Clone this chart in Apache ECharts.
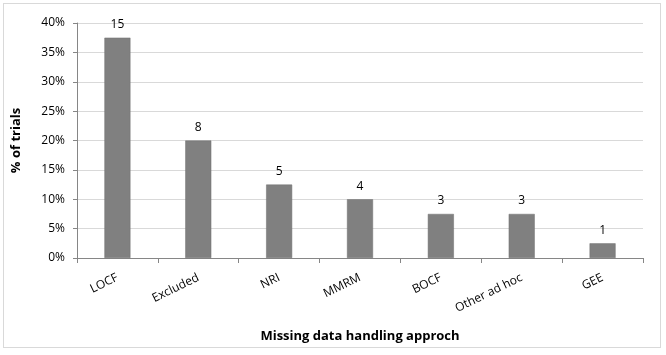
<!DOCTYPE html>
<html>
<head>
<meta charset="utf-8">
<script src="https://cdn.jsdelivr.net/npm/echarts@6/dist/echarts.min.js"></script>
<style>
  html, body { margin: 0; padding: 0; background: #fff; }
  #frame {
    position: absolute; left: 3px; top: 3px; width: 658px; height: 345px;
    border: 1px solid #d9d9d9; box-sizing: border-box;
  }
  #chart { position: absolute; left: 0; top: 0; width: 666px; height: 355px; }
</style>
</head>
<body>
<div id="frame"></div>
<div id="chart"></div>
<script>
const categories = ['LOCF', 'Excluded', 'NRI', 'MMRM', 'BOCF', 'Other ad hoc', 'GEE']
// % of trials (bar height) and number of trials (label)
const percents = [37.5, 20, 12.5, 10, 7.5, 7.5, 2.5]
const counts = [15, 8, 5, 4, 3, 3, 1]
const yTicks = { min: 0, max: 40, interval: 5 }

const font = '"Open Sans", "Liberation Sans", sans-serif'
const chart = echarts.init(document.getElementById('chart'))

chart.setOption({
  animation: false,
  grid: { left: 77, right: 23, top: 23, bottom: 97 },
  xAxis: {
    type: 'category',
    data: categories,
    name: 'Missing data handling approch',
    nameLocation: 'middle',
    nameGap: 72,
    nameTextStyle: { fontFamily: font, fontSize: 13, fontWeight: 'bold', color: '#000' },
    axisLine: { lineStyle: { color: '#868686' } },
    axisTick: { show: true, length: 5, lineStyle: { color: '#868686' } },
    axisLabel: { rotate: 26, fontFamily: font, fontSize: 12, color: '#000', margin: 19 }
  },
  yAxis: {
    type: 'value',
    min: yTicks.min,
    max: yTicks.max,
    interval: yTicks.interval,
    name: '% of trials',
    nameLocation: 'middle',
    nameGap: 54,
    nameTextStyle: { fontFamily: font, fontSize: 13, fontWeight: 'bold', color: '#000' },
    axisLine: { show: true, lineStyle: { color: '#868686' } },
    axisTick: { show: true, length: 4, lineStyle: { color: '#868686' } },
    axisLabel: { formatter: '{value}%', fontFamily: font, fontSize: 12, color: '#000', margin: 12 },
    splitLine: { lineStyle: { color: '#d9d9d9' } }
  },
  series: [{
    type: 'bar',
    data: percents,
    barWidth: 26,
    itemStyle: { color: '#808080', borderColor: '#6f6f6f', borderWidth: 0.5 },
    label: {
      show: true,
      position: 'top',
      distance: 7,
      fontFamily: font,
      fontSize: 12,
      color: '#000',
      formatter: (p) => counts[p.dataIndex]
    }
  }]
})
</script>
</body>
</html>
